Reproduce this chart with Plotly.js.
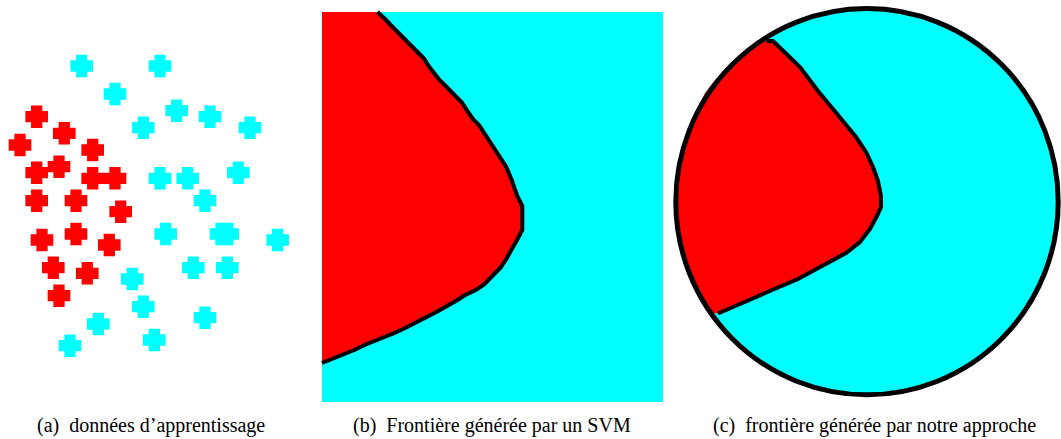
<!DOCTYPE html>
<html>
<head>
<meta charset="utf-8">
<script src="https://cdn.plot.ly/plotly-3.0.1.min.js"></script>
<style>html,body{margin:0;padding:0;background:#fff;}#chart{width:1061px;height:439px;}</style>
</head>
<body>
<div id="chart"></div>
<script>
// ---------- Panel (a): training data (pixel-space coordinates) ----------
const cyanX = [81.7, 160, 115, 176.7, 210, 143.3, 250, 160, 187.7, 238.3, 205, 165.7, 221, 227.7, 277.7, 193.3, 227.3, 132.3, 143.3, 98.3, 205, 154.3, 70];
const cyanY = [66, 66, 94, 110.7, 116.7, 127.7, 127.7, 178.3, 178.3, 172.7, 200.7, 234, 234, 234, 240, 267.7, 267.7, 279, 306.7, 324, 317.7, 340, 345.7];
const redX = [36.7, 64.3, 20, 92.7, 59, 36.7, 92.7, 115, 36.7, 76, 120.7, 76, 42, 109.3, 53.3, 87.3, 59];
const redY = [116.7, 133.3, 145, 150, 166.7, 172.7, 178.3, 178.3, 200.7, 200.7, 211.7, 234, 240, 245, 267.7, 273.3, 295.7];

// ---------- Panel (b): SVM frontier ----------
const svmBoxX = [322, 663, 663, 322];
const svmBoxY = [12, 12, 402, 402];
const svmFrontX = [377.5, 379.3, 385, 390.7, 396, 401.7, 407.3, 412.7, 418.3, 424, 429, 435, 440, 445.7, 451, 456.7, 462.3, 467.7, 473.3, 479, 484.3, 490, 495, 500.7, 506, 511.7, 517.3, 522.3, 522.3, 517.3, 511.7, 506, 500.7, 495, 490, 484.3, 475.7, 464.3, 456.7, 448.3, 437.3, 426.7, 415.7, 404.3, 393.3, 379.3, 365.7, 354.3, 340.7, 327.3, 322];
const svmFrontY = [12, 14, 19, 25, 30.5, 36, 41.5, 47, 53, 58.5, 66.5, 75, 80.5, 86, 91.5, 97, 103, 111.5, 119.5, 125, 133, 141, 149.5, 158, 166.5, 180, 196, 206, 230, 239.5, 250, 259.5, 267.5, 273, 279, 284.5, 290, 295.5, 300.5, 305.5, 311.5, 317, 323, 328.5, 333.5, 339, 344.5, 350, 355.5, 361, 363];
const svmRedCornerX = [322];
const svmRedCornerY = [12];

// ---------- Panel (c): our approach ----------
const circleBox = {x0: 675.8, x1: 1058.2, y0: 8.5, y1: 394.8};
const oursFrontX = [766.7, 773, 800, 818, 838, 856, 866, 873, 878, 881, 881, 877, 870, 860, 846, 823, 798, 778, 759, 740, 718];
const oursFrontY = [41, 41, 67, 91, 115, 137, 152, 167, 181, 196, 207, 216, 229, 242, 253, 266, 279, 287.5, 296, 304.5, 313.5];
const oursArcX = [713, 705, 696.7, 690, 686.7, 683.3, 680, 676, 675, 676, 679.3, 683.3, 688.3, 691.7, 698.3, 705, 715, 730, 740, 751.7, 761.7];
const oursArcY = [313, 300, 287, 273, 260, 247, 233, 220, 200, 183, 167, 147, 133, 120, 107, 93, 80, 67, 57, 47, 40];

// ---------- Captions ----------
const captions = ["(a)\u00a0 données d\u2019apprentissage", "(b)\u00a0 Frontière générée par un SVM", "(c)\u00a0 frontière générée par notre approche"];
const captionX = [151, 492, 874];
const captionY = 425;

const CYAN = '#00FFFF', RED = '#FF0000';

const traces = [
  {type: 'scatter', mode: 'markers', x: cyanX, y: cyanY,
   marker: {symbol: 'cross', size: 14.2, color: CYAN, line: {color: CYAN, width: 5.6}}, hoverinfo: 'skip'},
  {type: 'scatter', mode: 'markers', x: redX, y: redY,
   marker: {symbol: 'cross', size: 14.2, color: RED, line: {color: RED, width: 5.6}}, hoverinfo: 'skip'},
  {type: 'scatter', mode: 'lines', x: svmBoxX, y: svmBoxY, fill: 'toself', fillcolor: CYAN,
   line: {width: 0, color: CYAN}, hoverinfo: 'skip'},
  {type: 'scatter', mode: 'lines', x: svmRedCornerX.concat(svmFrontX), y: svmRedCornerY.concat(svmFrontY),
   fill: 'toself', fillcolor: RED, line: {width: 0, color: RED}, hoverinfo: 'skip'},
  {type: 'scatter', mode: 'lines', x: svmFrontX, y: svmFrontY, line: {width: 4, color: '#000'}, hoverinfo: 'skip'},
  {type: 'scatter', mode: 'lines', x: oursFrontX.concat(oursArcX), y: oursFrontY.concat(oursArcY),
   fill: 'toself', fillcolor: RED, line: {width: 0, color: RED}, hoverinfo: 'skip'},
  {type: 'scatter', mode: 'lines', x: oursFrontX, y: oursFrontY, line: {width: 4, color: '#000'}, hoverinfo: 'skip'}
];

const layout = {
  width: 1061, height: 439,
  margin: {l: 0, r: 0, t: 0, b: 0, pad: 0},
  paper_bgcolor: '#fff', plot_bgcolor: '#fff',
  showlegend: false,
  xaxis: {range: [0, 1061], domain: [0, 1], visible: false, fixedrange: true},
  yaxis: {range: [439, 0], domain: [0, 1], visible: false, fixedrange: true},
  shapes: [
    {type: 'circle', xref: 'x', yref: 'y', x0: circleBox.x0, x1: circleBox.x1, y0: circleBox.y0, y1: circleBox.y1,
     fillcolor: CYAN, line: {width: 0}, layer: 'below'},
    {type: 'circle', xref: 'x', yref: 'y', x0: circleBox.x0, x1: circleBox.x1, y0: circleBox.y0, y1: circleBox.y1,
     fillcolor: 'rgba(0,0,0,0)', line: {width: 5, color: '#000'}, layer: 'above'}
  ],
  annotations: captions.map((t, i) => ({
    text: t, x: captionX[i], y: captionY, xref: 'x', yref: 'y', showarrow: false,
    xanchor: 'center', yanchor: 'middle',
    font: {family: 'Liberation Serif', size: 20, color: '#000'}
  }))
};

Plotly.newPlot('chart', traces, layout, {staticPlot: true, displayModeBar: false});
</script>
</body>
</html>
